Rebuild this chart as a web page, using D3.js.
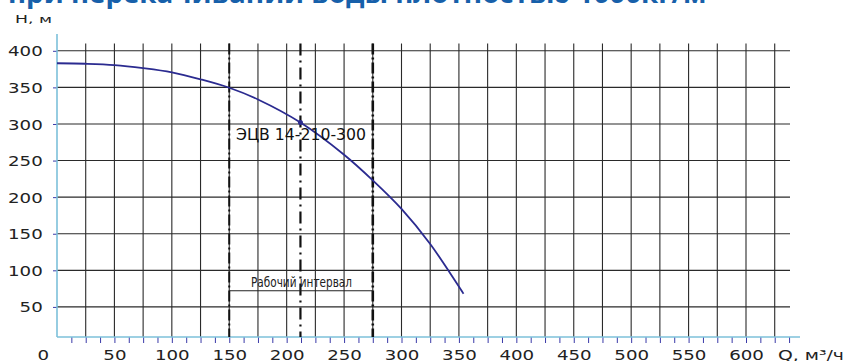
<!DOCTYPE html>
<html>
<head>
<meta charset="utf-8">
<script src="https://cdn.jsdelivr.net/npm/d3@7"></script>
<style>
  html, body { margin: 0; padding: 0; background: #fff; }
  svg { display: block; }
  .tick text { font-family: "DejaVu Sans", sans-serif; font-size: 14px; fill: #222; }
</style>
</head>
<body>
<div id="chart"></div>
<script>
// pump curve H(Q)
var qPts = [0, 25, 50, 75, 100, 125, 150, 175, 212, 250, 275, 300, 325, 354];
var hPts = [383, 382.3, 380.5, 376.3, 370.5, 361, 349.5, 333.5, 302, 258, 223, 184, 136, 68];
var xLabels = [0, 50, 100, 150, 200, 250, 300, 350, 400, 450, 500, 550, 600];
var yLabels = [50, 100, 150, 200, 250, 300, 350, 400];
var markers = [150, 212, 275];          // working range lines + nominal point
var dutyPoint = [212, 302];
var workRange = [150, 275, 72];         // from, to, H of the bracket line

(function () {
  var W = 843, H = 361;
  var x = d3.scaleLinear().domain([0, 600]).range([57, 746]);
  var y = d3.scaleLinear().domain([0, 400]).range([343.5, 50.8]);
  var axisY = 337, gridTop = y(410);

  var svg = d3.select("#chart").append("svg").attr("width", W).attr("height", H);

  // title, cut off at top edge
  svg.append("text").attr("x", 8).attr("y", 3)
    .attr("textLength", 709).attr("lengthAdjust", "spacingAndGlyphs")
    .style("font-family", "'Open Sans', sans-serif").style("font-weight", 700)
    .style("font-size", "27px").style("fill", "#1760aa")
    .text("при перекачивании воды плотностью 1000кг/м³");

  // grid
  var grid = svg.append("g");
  d3.range(25, 626, 25).forEach(function (q) {
    grid.append("line").attr("x1", x(q)).attr("x2", x(q)).attr("y1", gridTop).attr("y2", axisY)
      .attr("stroke", "#2a2a2a").attr("stroke-width", 1.1);
  });
  yLabels.forEach(function (h) {
    grid.append("line").attr("x1", x(0)).attr("x2", 790).attr("y1", y(h)).attr("y2", y(h))
      .attr("stroke", "#2a2a2a").attr("stroke-width", 1.1);
  });

  // x axis: minor ticks + labels
  var minor = d3.range(12.5, 640, 12.5);
  var gxm = svg.append("g").attr("transform", "translate(0," + axisY + ")")
    .call(d3.axisBottom(x).tickValues(minor).tickSize(6).tickFormat(""));
  gxm.select(".domain").remove();
  gxm.selectAll(".tick line").attr("stroke", "#3a3aa8").attr("stroke-width", 1);

  var gx = svg.append("g").attr("transform", "translate(0," + axisY + ")")
    .call(d3.axisBottom(x).tickValues(xLabels).tickSize(0).tickPadding(13).tickFormat(d3.format("d")));
  gx.select(".domain").remove();
  gx.selectAll(".tick text").attr("transform", "scale(1.3,1)");
  gx.selectAll(".tick").filter(function (d) { return d === 0; }).select("text").attr("x", -11);

  // y axis
  var gy = svg.append("g").attr("transform", "translate(" + x(0) + ",0)")
    .call(d3.axisLeft(y).tickValues(yLabels).tickSize(4).tickPadding(7).tickFormat(d3.format("d")));
  gy.select(".domain").remove();
  gy.selectAll(".tick line").attr("stroke", "#3a3aa8");
  gy.selectAll(".tick text").attr("transform", "scale(1.3,1)").attr("dy", "0.36em");

  // axis lines
  svg.append("line").attr("x1", x(0)).attr("x2", 800).attr("y1", axisY).attr("y2", axisY)
    .attr("stroke", "#7cc0da").attr("stroke-width", 1.6);
  svg.append("line").attr("x1", x(0)).attr("x2", x(0)).attr("y1", 34).attr("y2", axisY)
    .attr("stroke", "#7cc0da").attr("stroke-width", 1.6);

  // axis titles
  svg.append("text").attr("x", 15).attr("y", 22.5)
    .attr("textLength", 37).attr("lengthAdjust", "spacingAndGlyphs")
    .style("font-family", "'DejaVu Sans', sans-serif").style("font-size", "11px").style("fill", "#222")
    .text("H, м");
  svg.append("text").attr("x", 778).attr("y", 360)
    .attr("textLength", 66).attr("lengthAdjust", "spacingAndGlyphs")
    .style("font-family", "'DejaVu Sans', sans-serif").style("font-size", "14px").style("fill", "#222")
    .text("Q, м³/ч");

  // working range verticals
  var dashes = ["11,3,2,3", "12,5,2,5", "11,3,2,3"];
  var widths = [2, 2.2, 2.6];
  markers.forEach(function (q, i) {
    svg.append("line").attr("x1", x(q)).attr("x2", x(q)).attr("y1", gridTop).attr("y2", axisY)
      .attr("stroke", "#111").attr("stroke-width", widths[i]).attr("stroke-dasharray", dashes[i]);
  });

  // bracket for working interval
  svg.append("line").attr("x1", x(workRange[0])).attr("x2", x(workRange[1]))
    .attr("y1", y(workRange[2])).attr("y2", y(workRange[2]))
    .attr("stroke", "#222").attr("stroke-width", 1.1);
  svg.append("text").attr("x", 251).attr("y", 287)
    .attr("textLength", 101).attr("lengthAdjust", "spacingAndGlyphs")
    .style("font-family", "'DejaVu Sans', sans-serif")
    .style("font-size", "14px").style("fill", "#222")
    .text("Рабочий интервал");

  // pump curve
  var pts = qPts.map(function (q, i) { return [q, hPts[i]]; });
  svg.append("path").datum(pts)
    .attr("d", d3.line().x(function (d) { return x(d[0]); }).y(function (d) { return y(d[1]); })
      .curve(d3.curveCatmullRom.alpha(0.5)))
    .attr("fill", "none").attr("stroke", "#2b2b90").attr("stroke-width", 1.8);
  svg.append("circle").attr("cx", x(dutyPoint[0])).attr("cy", y(dutyPoint[1])).attr("r", 2.5)
    .attr("fill", "#2b2b90");

  svg.append("text").attr("x", 236).attr("y", 140)
    .attr("textLength", 130).attr("lengthAdjust", "spacingAndGlyphs")
    .style("font-family", "'DejaVu Sans', sans-serif")
    .style("font-size", "16px").style("fill", "#111")
    .text("ЭЦВ 14-210-300");
})();
</script>
</body>
</html>
